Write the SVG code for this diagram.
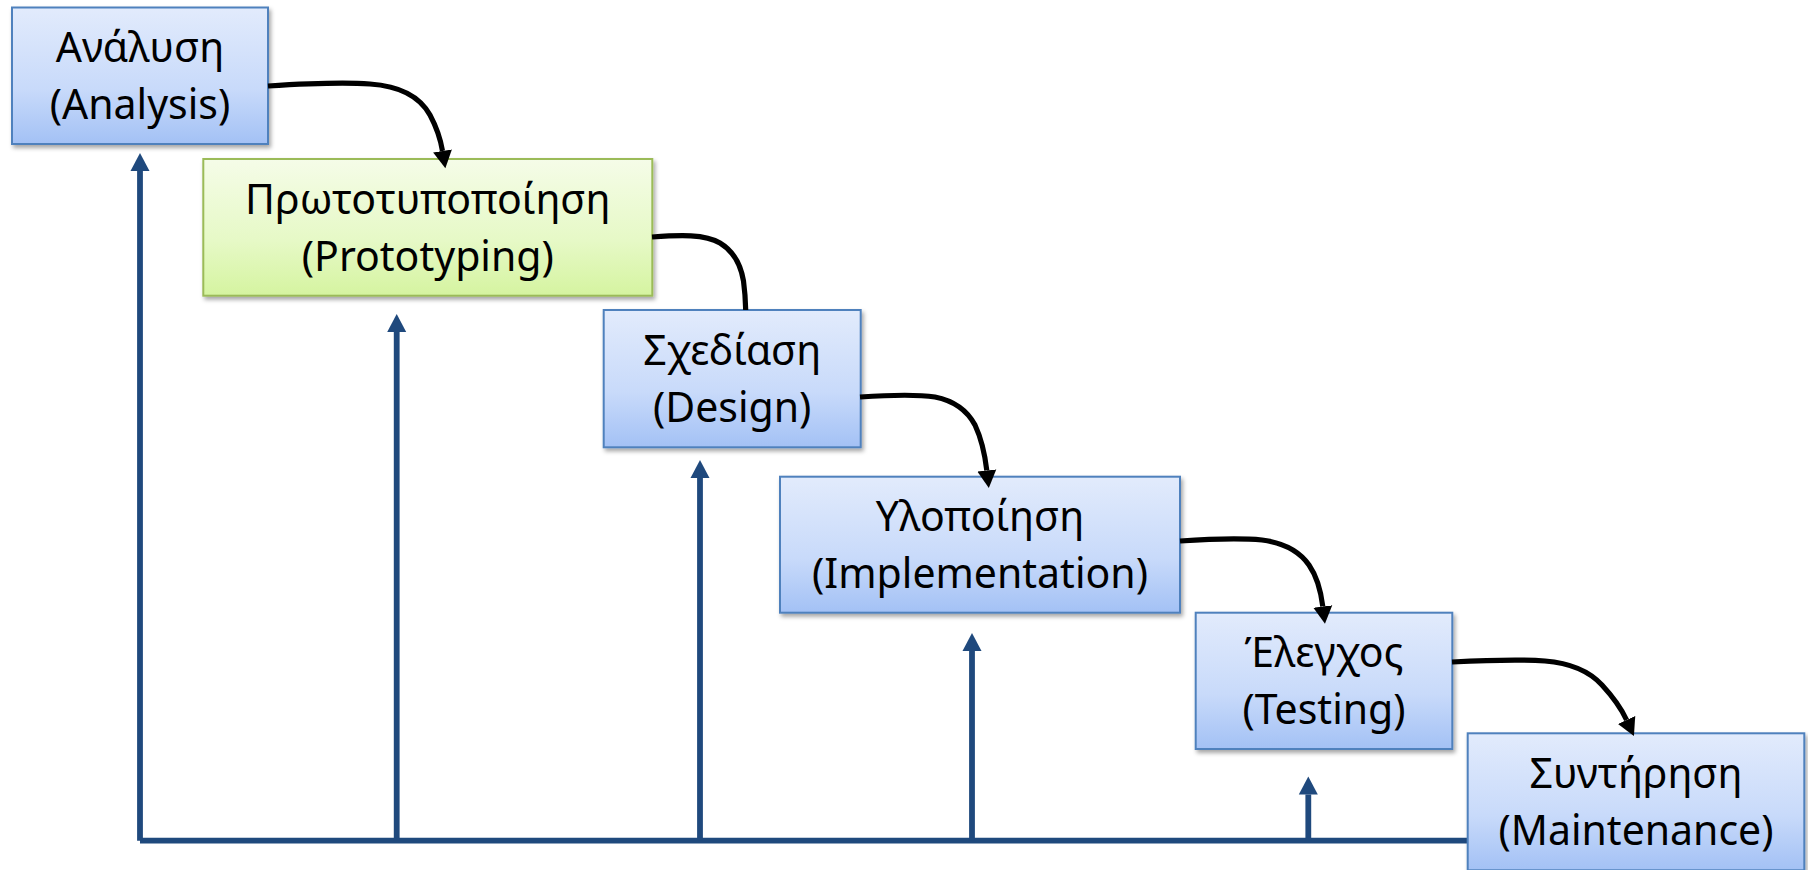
<svg xmlns="http://www.w3.org/2000/svg" width="1808" height="870" viewBox="0 0 1808 870">
  <style>
    .box-blue { fill: url(#gradBlue); stroke: #4F81BD; stroke-width: 2; filter: url(#shadow); }
    .box-green { fill: url(#gradGreen); stroke: #9BBB59; stroke-width: 2; filter: url(#shadow); }
    .label { font-family: "Noto Sans", "Open Sans", "DejaVu Sans", sans-serif; font-size: 41px; fill: #000; text-anchor: middle; }
    .flow { fill: none; stroke: #000; stroke-width: 5.2; marker-end: url(#arrowBlack); }
    .flow-plain { fill: none; stroke: #000; stroke-width: 5.2; }
    .feedback { fill: none; stroke: #1F497D; stroke-width: 5.8; marker-end: url(#arrowBlue); }
    .bus { fill: none; stroke: #1F497D; stroke-width: 5.8; }
  </style>
  <defs>
    <linearGradient id="gradBlue" x1="0" y1="0" x2="0" y2="1">
      <stop offset="0" stop-color="#E2EBFC"/>
      <stop offset="0.6" stop-color="#C8DAFA"/>
      <stop offset="1" stop-color="#A3C1F5"/>
    </linearGradient>
    <linearGradient id="gradGreen" x1="0" y1="0" x2="0" y2="1">
      <stop offset="0" stop-color="#F5FCE8"/>
      <stop offset="0.6" stop-color="#E6F9C6"/>
      <stop offset="1" stop-color="#D5F4A0"/>
    </linearGradient>
    <filter id="shadow" x="-10%" y="-10%" width="125%" height="130%">
      <feDropShadow dx="2" dy="3" stdDeviation="2" flood-color="#000" flood-opacity="0.35"/>
    </filter>
    <marker id="arrowBlack" viewBox="0 -10 19 20" refX="0" refY="0" markerWidth="19" markerHeight="20" markerUnits="userSpaceOnUse" orient="auto">
      <path d="M0,-9.5 L17.5,0 L0,9.5 Z" fill="#000"/>
    </marker>
    <marker id="arrowBlue" viewBox="0 -10 19 20" refX="0" refY="0" markerWidth="19" markerHeight="20" markerUnits="userSpaceOnUse" orient="auto">
      <path d="M0,-9.5 L18,0 L0,9.5 Z" fill="#1F497D"/>
    </marker>
  </defs>

  <!-- feedback bus and return arrows -->
  <g id="feedback">
    <path class="bus" d="M140,840.7 L1467.7,840.7"/>
    <path class="feedback" d="M140,840.7 L140,171"/>
    <path class="feedback" d="M396.7,840.7 L396.7,332"/>
    <path class="feedback" d="M700,840.7 L700,478"/>
    <path class="feedback" d="M972,840.7 L972,651"/>
    <path class="feedback" d="M1308.3,840.7 L1308.3,794.5"/>
  </g>

  <!-- phase nodes -->
  <g id="analysis">
    <rect class="box-blue" x="12" y="7.5" width="256" height="136.5"/>
    <text class="label" x="140" y="62">Ανάλυση</text>
    <text class="label" x="140" y="119">(Analysis)</text>
  </g>
  <g id="prototyping">
    <rect class="box-green" x="203.3" y="159" width="449" height="136.7"/>
    <text class="label" x="427.8" y="213.5">Πρωτοτυποποίηση</text>
    <text class="label" x="427.8" y="270.5">(Prototyping)</text>
  </g>
  <g id="design">
    <rect class="box-blue" x="603.7" y="310" width="257" height="137.3"/>
    <text class="label" x="732.2" y="365">Σχεδίαση</text>
    <text class="label" x="732.2" y="422">(Design)</text>
  </g>
  <g id="implementation">
    <rect class="box-blue" x="780" y="476.7" width="400" height="136"/>
    <text class="label" x="980" y="531">Υλοποίηση</text>
    <text class="label" x="980" y="588">(Implementation)</text>
  </g>
  <g id="testing">
    <rect class="box-blue" x="1195.7" y="612.7" width="256.6" height="136.3"/>
    <text class="label" x="1324" y="667">Έλεγχος</text>
    <text class="label" x="1324" y="724">(Testing)</text>
  </g>
  <g id="maintenance">
    <rect class="box-blue" x="1467.7" y="733.3" width="336.6" height="137"/>
    <text class="label" x="1636" y="788">Συντήρηση</text>
    <text class="label" x="1636" y="845">(Maintenance)</text>
  </g>

  <!-- forward flow between phases -->
  <g id="connectors">
    <path class="flow" d="M268,86 C300,84 340,82 370,84 C400,86 420,97 430,115 C438,130 441,142 442.5,151"/>
    <path class="flow-plain" d="M652,237 C680,235 705,234 720,243 C735,252 741,266 743.5,281 C745,292 745.5,300 745.7,310"/>
    <path class="flow" d="M860,397 C890,395 915,394 935,397 C955,401 968,412 975,425 C982,440 985,455 986.8,470.5"/>
    <path class="flow" d="M1180,541 C1210,539 1240,538 1262,540 C1285,543 1300,552 1309,565 C1318,578 1321,592 1322.8,606.5"/>
    <path class="flow" d="M1452,662 C1490,660 1520,659 1545,661 C1570,663 1590,672 1602,685 C1614,698 1622,710 1626.6,720"/>
  </g>
</svg>
